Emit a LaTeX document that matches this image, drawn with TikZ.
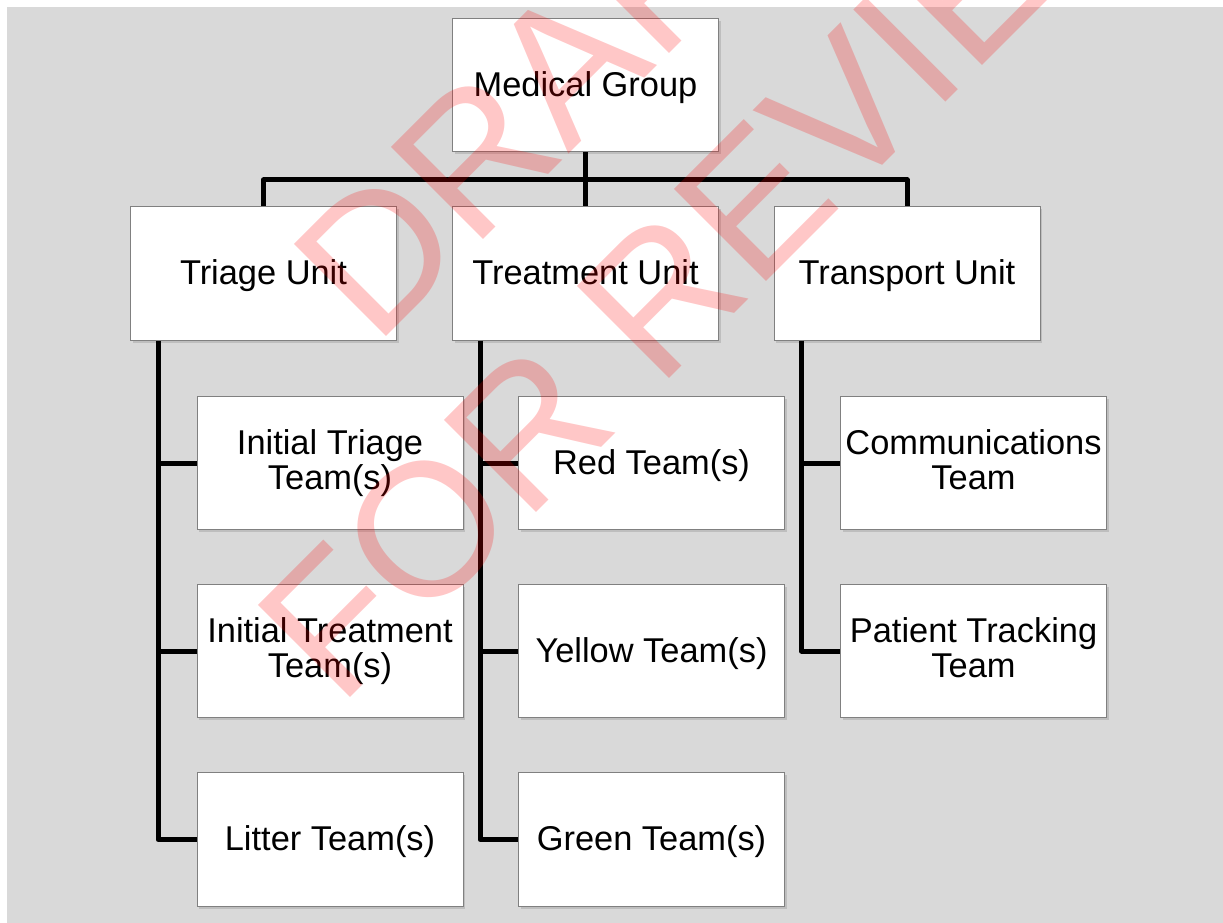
\documentclass[tikz,border=0pt]{standalone}
\usepackage{fontspec}
\setmainfont{Liberation Sans}
\usetikzlibrary{shadows}
\definecolor{slidegray}{HTML}{D9D9D9}
\definecolor{boxline}{HTML}{808080}
\newcommand{\boxstrut}{\rule[-5.5pt]{0pt}{28.2pt}}
\tikzset{
  unitbox/.style={draw=boxline,line width=0.75pt,fill=white,minimum width=199.5pt,minimum height=100pt,
    align=center,inner sep=2pt,font=\fontsize{25.8}{26.5}\selectfont,
    execute at begin node=\boxstrut,execute at end node=\boxstrut,
    drop shadow={shadow xshift=1.8pt,shadow yshift=-1.8pt,opacity=0.3}},
  orgline/.style={line width=3.75pt,line join=round},
  stamp/.style={rotate=45,anchor=base,text=red,text opacity=0.22,font=\fontsize{142}{170}\selectfont}
}
\begin{document}
\begin{tikzpicture}[x=0.75pt,y=-0.75pt]
      \useasboundingbox (0,0) rectangle (1223,923);
      \fill[slidegray] (7,7) rectangle (1223,923);
      \node[unitbox] (mg) at (585.5,85) {Medical Group};
      \node[unitbox] (triage) at (263.5,273.5) {Triage Unit};
      \node[unitbox] (treat) at (585.5,273.5) {Treatment Unit};
      \node[unitbox] (transp) at (907,273.5) {Transport Unit};
      \node[unitbox] (inittri) at (330,463) {Initial Triage\\Team(s)};
      \node[unitbox] (inittreat) at (330,651) {Initial Treatment\\Team(s)};
      \node[unitbox] (litter) at (330,839.5) {Litter Team(s)};
      \node[unitbox] (red) at (651.5,463) {Red Team(s)};
      \node[unitbox] (yellow) at (651.5,651) {Yellow Team(s)};
      \node[unitbox] (green) at (651.5,839.5) {Green Team(s)};
      \node[unitbox] (comms) at (973.5,463) {Communications\\Team};
      \node[unitbox] (track) at (973.5,651) {Patient Tracking\\Team};
      \coordinate (bus) at (585.5,180);
      \draw[orgline] (mg) -- (treat);
      \draw[orgline] (triage.north) -- (triage.north |- bus) -- (transp.north |- bus) -- (transp.north);
      \coordinate (trspine) at ([xshift=21pt]triage.south west);
      \coordinate (tmspine) at ([xshift=21pt]treat.south west);
      \coordinate (tpspine) at ([xshift=21pt]transp.south west);
      \draw[orgline] (trspine) |- (litter.west);
      \draw[orgline] (trspine |- inittri.west) -- (inittri.west);
      \draw[orgline] (trspine |- inittreat.west) -- (inittreat.west);
      \draw[orgline] (tmspine) |- (green.west);
      \draw[orgline] (tmspine |- red.west) -- (red.west);
      \draw[orgline] (tmspine |- yellow.west) -- (yellow.west);
      \draw[orgline] (tpspine) |- (track.west);
      \draw[orgline] (tpspine |- comms.west) -- (comms.west);
      \node[stamp] (draft) at (598.5,124.5) {DRAFT};
      \node[stamp] (review) at (763,285) {FOR REVIEW};
\end{tikzpicture}
\end{document}
